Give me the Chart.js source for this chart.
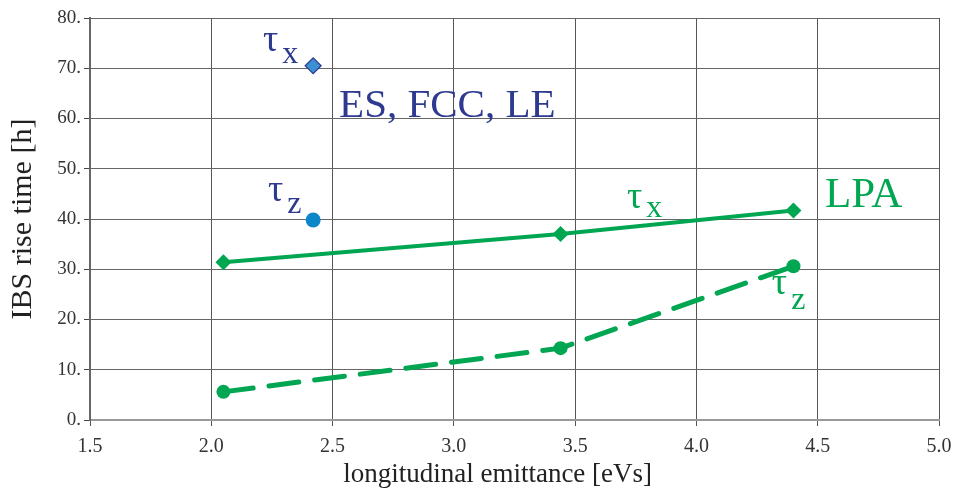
<!DOCTYPE html>
<html>
<head>
<meta charset="utf-8">
<script src="https://cdn.jsdelivr.net/npm/chart.js@4/dist/chart.umd.min.js"></script>
<style>
  html, body { margin: 0; padding: 0; background: #fff; }
  #wrap { width: 955px; height: 488px; }
</style>
</head>
<body>
<div id="wrap"><canvas id="chart"></canvas></div>
<script>
// emittance [eVs] for the LPA cases
var lpaEmit = [2.05, 3.44, 4.40];
var lpaTauX = [31.4, 37.0, 41.7];
var lpaTauZ = [5.6, 14.3, 30.6];

// ES, FCC, LE single point
var esEmit = [2.42];
var esTauX = [70.5];
var esTauZ = [39.8];

var xTicks = [1.5, 2.0, 2.5, 3.0, 3.5, 4.0, 4.5, 5.0];
var yTicks = [0, 10, 20, 30, 40, 50, 60, 70, 80];

var green = '#00a651';
var blue = '#2e3a8f';
var serif = '"Liberation Serif", "Times New Roman", serif';

function pts(xs, ys) {
    return xs.map(function (x, i) { return { x: x, y: ys[i] }; });
}

// text labels placed in data coordinates
var labels = [
    { text: 'τ', sub: 'x', x: 2.213, y: 73.4, subDy: 12, color: blue },
    { text: 'τ', sub: 'z', x: 2.234, y: 43.6, subDy: 12, color: blue },
    { text: 'ES, FCC, LE', x: 2.527, y: 60.3, color: blue, size: 41 },
    { text: 'τ', sub: 'x', x: 3.714, y: 42.2, subDy: 9, color: green },
    { text: 'LPA', x: 4.53, y: 42.4, color: green, size: 43 },
    { text: 'τ', sub: 'z', x: 4.311, y: 25.0, subDy: 15, color: green }
];

var textPlugin = {
    id: 'textLabels',
    afterDatasetsDraw: function (chart) {
        var ctx = chart.ctx;
        var xs = chart.scales.x, ys = chart.scales.y;
        ctx.save();
        ctx.textBaseline = 'alphabetic';
        ctx.textAlign = 'left';
        labels.forEach(function (l) {
            var px = xs.getPixelForValue(l.x);
            var py = ys.getPixelForValue(l.y);
            ctx.fillStyle = l.color;
            var size = l.size || 38;
            ctx.font = size + 'px ' + serif;
            ctx.fillText(l.text, px, py);
            if (l.sub) {
                var w = ctx.measureText(l.text).width;
                ctx.font = '32px ' + serif;
                ctx.fillText(l.sub, px + w + 4, py + l.subDy);
            }
        });
        ctx.restore();
    }
};

var ctx = document.getElementById('chart');
var myChart = new Chart(ctx, {
    type: 'scatter',
    data: {
        datasets: [
            {
                label: 'LPA tau x',
                data: pts(lpaEmit, lpaTauX),
                showLine: true,
                borderColor: green,
                backgroundColor: green,
                borderWidth: 4,
                pointStyle: 'rectRot',
                pointRadius: 8,
                pointBorderWidth: 0
            },
            {
                label: 'LPA tau z',
                data: pts(lpaEmit, lpaTauZ),
                showLine: true,
                borderColor: green,
                backgroundColor: green,
                borderWidth: 5,
                borderDash: [30, 16],
                borderCapStyle: 'round',
                pointStyle: 'circle',
                pointRadius: 7,
                pointBorderWidth: 0
            },
            {
                label: 'ES tau x',
                data: pts(esEmit, esTauX),
                backgroundColor: '#3d8fd4',
                borderColor: '#2e3a8f',
                borderWidth: 1.2,
                pointStyle: 'rectRot',
                pointRadius: 8
            },
            {
                label: 'ES tau z',
                data: pts(esEmit, esTauZ),
                backgroundColor: '#0a86c9',
                borderColor: '#0a86c9',
                pointStyle: 'circle',
                pointRadius: 7.5,
                pointBorderWidth: 0
            }
        ]
    },
    options: {
        responsive: true,
        maintainAspectRatio: false,
        animation: false,
        layout: { padding: { top: 18, right: 16, left: 0, bottom: 0 } },
        plugins: {
            legend: { display: false },
            tooltip: { enabled: false }
        },
        scales: {
            x: {
                type: 'linear',
                min: 1.5,
                max: 5.0,
                afterBuildTicks: function (axis) {
                    axis.ticks = xTicks.map(function (v) { return { value: v }; });
                },
                ticks: {
                    color: '#333',
                    font: { family: serif, size: 20 },
                    padding: 9,
                    callback: function (v) { return v.toFixed(1); }
                },
                grid: { color: '#555', lineWidth: 1, tickLength: 6, tickColor: '#555' },
                border: { color: '#999', width: 2 },
                title: {
                    display: true,
                    text: 'longitudinal emittance [eVs]     ',
                    color: '#222',
                    font: { family: serif, size: 27, lineHeight: 1 },
                    padding: { top: 0, bottom: 0 }
                },
                afterFit: function (axis) {
                    axis.height = 68;
                    axis.paddingLeft = 0;
                    axis.paddingRight = 0;
                }
            },
            y: {
                type: 'linear',
                min: 0,
                max: 80,
                afterBuildTicks: function (axis) {
                    axis.ticks = yTicks.map(function (v) { return { value: v }; });
                },
                ticks: {
                    color: '#333',
                    font: { family: serif, size: 19 },
                    padding: 3,
                    callback: function (v) { return v + '.'; }
                },
                grid: { color: '#666', lineWidth: 1, tickLength: 6, tickColor: '#444' },
                border: { color: '#666', width: 2 },
                title: {
                    display: true,
                    text: 'IBS rise time [h]',
                    color: '#222',
                    font: { family: serif, size: 30 },
                    padding: { top: 5, bottom: 0 }
                },
                afterFit: function (axis) {
                    axis.width = 90;
                    axis.paddingTop = 0;
                    axis.paddingBottom = 0;
                }
            }
        }
    },
    plugins: [textPlugin]
});
ctx['_chart'] = myChart;
</script>
</body>
</html>
